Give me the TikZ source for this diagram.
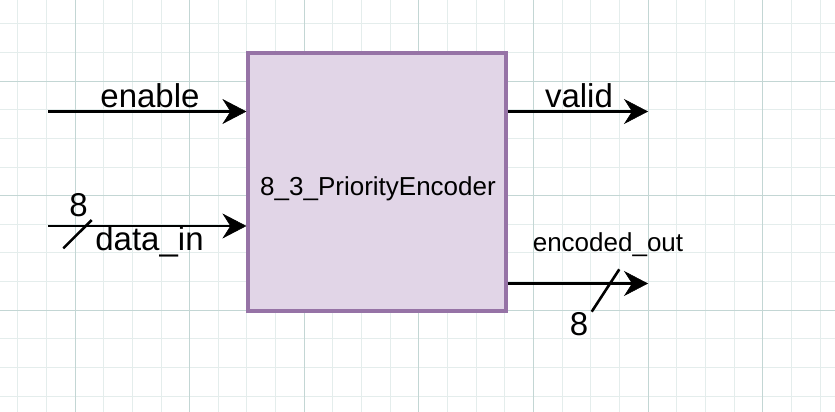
\documentclass[tikz,border=0pt]{standalone}
\usepackage{fontspec}
\setmainfont{Liberation Sans}
\usetikzlibrary{arrows.meta}

\definecolor{gridminor}{HTML}{E4EDEC}
\definecolor{gridmajor}{HTML}{C3D6D4}
\definecolor{encfill}{HTML}{E1D5E7}
\definecolor{encline}{HTML}{9673A6}

\begin{document}
\begin{tikzpicture}[x=1pt,y=-1pt,
  block/.style={draw=encline,fill=encfill,line width=3.2pt,minimum width=258pt,minimum height=258pt,inner sep=0pt},
  port/.style={line width=2.8pt,-{Stealth[length=24pt,width=25pt,inset=8pt,line width=0.5pt]}},
  bus/.style={line width=2.6pt},
  portlabel/.style={anchor=base,inner sep=0pt,font=\fontsize{33}{36}\selectfont},
  namelabel/.style={anchor=base,inner sep=0pt,font=\fontsize{26}{30}\selectfont}]

  % background and grid
  \fill[white] (0,0) rectangle (835,412);
  \useasboundingbox (0,0) rectangle (835,412);
  \foreach \k in {0,...,28}
    {\pgfmathsetmacro\gx{17.7+28.66*\k}
     \draw[gridminor,line width=1pt] (\gx,0) -- (\gx,412);}
  \foreach \k in {0,...,13}
    {\pgfmathsetmacro\gy{23.7+28.66*\k}
     \draw[gridminor,line width=1pt] (0,\gy) -- (835,\gy);}
  \foreach \k in {2,6,...,26}
    {\pgfmathsetmacro\gx{17.7+28.66*\k}
     \draw[gridmajor,line width=1pt] (\gx,0) -- (\gx,412);}
  \foreach \k in {2,6,10}
    {\pgfmathsetmacro\gy{23.7+28.66*\k}
     \draw[gridmajor,line width=1pt] (0,\gy) -- (835,\gy);}

  % the encoder block
  \node [block] (enc) at (377,182) {};
  \node [namelabel] (encname) at (378,195) {8\_3\_PriorityEncoder};

  % port ends
  \coordinate (enin) at (48,111.5);
  \coordinate (din) at (48,226);
  \coordinate (vout) at (648,111.5);
  \coordinate (eout) at (648,283.5);

  % inputs
  \draw [port] (enin) -- (enin -| enc.west);
  \draw [port] (din) -- (din -| enc.west);
  \node [portlabel] (lenable) at (150,107) {enable};
  \node [portlabel] (ldata) at (149.5,250) {data\_in};
  \draw [bus] (63.3,248.3) -- (91.7,220);
  \node [portlabel] (ldatawidth) at (78.5,216.5) {8};

  % outputs
  \draw [port] (enc.east |- vout) -- (vout);
  \draw [port] (enc.east |- eout) -- (eout);
  \node [portlabel] (lvalid) at (579,107) {valid};
  \node [namelabel] (lencoded) at (608,251) {encoded\_out};
  \draw [bus] (591.7,311.7) -- (619.3,269.3);
  \node [portlabel] (lencwidth) at (579,335) {8};
\end{tikzpicture}
\end{document}
